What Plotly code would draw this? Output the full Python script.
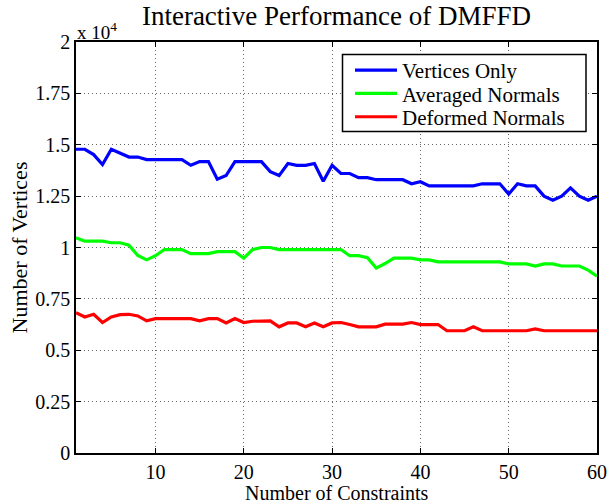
import plotly.graph_objects as go

constraints = list(range(1, 61))

vertices_only = [1.478, 1.478, 1.452, 1.404, 1.478, 1.457, 1.44, 1.44, 1.428, 1.428,
                 1.428, 1.428, 1.428, 1.40, 1.418, 1.418, 1.332, 1.35, 1.418, 1.418,
                 1.418, 1.418, 1.369, 1.35, 1.409, 1.40, 1.40, 1.409, 1.322, 1.40,
                 1.36, 1.36, 1.34, 1.34, 1.33, 1.33, 1.33, 1.33, 1.31, 1.32,
                 1.30, 1.30, 1.30, 1.30, 1.30, 1.30, 1.31, 1.31, 1.31, 1.26,
                 1.31, 1.30, 1.30, 1.25, 1.23, 1.25, 1.29, 1.25, 1.23, 1.25]

averaged_normals = [1.047, 1.031, 1.031, 1.031, 1.023, 1.023, 1.011, 0.961, 0.94, 0.96,
                    0.99, 0.99, 0.99, 0.97, 0.97, 0.97, 0.98, 0.98, 0.98, 0.948,
                    0.99, 1.0, 1.0, 0.99, 0.99, 0.99, 0.99, 0.99, 0.99, 0.99,
                    0.99, 0.96, 0.96, 0.95, 0.90, 0.922, 0.948, 0.948, 0.948, 0.94,
                    0.94, 0.93, 0.93, 0.93, 0.93, 0.93, 0.93, 0.93, 0.93, 0.92,
                    0.92, 0.92, 0.91, 0.92, 0.92, 0.91, 0.91, 0.91, 0.89, 0.86]

deformed_normals = [0.683, 0.662, 0.675, 0.635, 0.662, 0.673, 0.675, 0.667, 0.643, 0.654,
                    0.654, 0.654, 0.654, 0.654, 0.643, 0.654, 0.654, 0.633, 0.654, 0.635,
                    0.641, 0.643, 0.643, 0.614, 0.633, 0.633, 0.614, 0.633, 0.614, 0.633,
                    0.635, 0.625, 0.614, 0.614, 0.614, 0.627, 0.627, 0.627, 0.635, 0.625,
                    0.625, 0.625, 0.595, 0.595, 0.595, 0.614, 0.595, 0.595, 0.595, 0.595,
                    0.595, 0.595, 0.604, 0.595, 0.595, 0.595, 0.595, 0.595, 0.595, 0.595]

series_names = ["Vertices Only", "Averaged Normals", "Deformed Normals"]
series_colors = ["#0000ff", "#00ff00", "#ff0000"]

y_tickvals = [0, 0.25, 0.5, 0.75, 1, 1.25, 1.5, 1.75, 2]
y_ticktext = ["0", "0.25", "0.5", "0.75", "1", "1.25", "1.5", "1.75", "2"]
x_tickvals = [10, 20, 30, 40, 50, 60]

FONT = "Liberation Serif, Times New Roman, serif"

W, H = 607, 503
L, R, T, B = 76, 597, 41.5, 453
PW, PH = R - L, B - T

def px(xp):
    return (xp - L) / PW

def py(yp):
    return (B - yp) / PH

legend_keys = ["legend", "legend2", "legend3"]
legend_centers = [70, 93.3, 116.7]

fig = go.Figure()
for name, ys, col, lk in zip(series_names, [vertices_only, averaged_normals, deformed_normals],
                             series_colors, legend_keys):
    fig.add_trace(go.Scatter(x=constraints, y=ys, mode="lines", name=name, legend=lk,
                             line=dict(color=col, width=3.2)))

axis_common = dict(showline=True, linecolor="black", linewidth=1.5, mirror="ticks",
                   ticks="inside", ticklen=5, tickcolor="black", automargin=False,
                   ticklabeloverflow="allow",
                   showgrid=True, gridcolor="#666666", gridwidth=1, griddash="1px,3px",
                   zeroline=False, tickfont=dict(family=FONT, size=20, color="black"))

legend_common = dict(xanchor="left", yanchor="middle", bgcolor="rgba(0,0,0,0)",
                     borderwidth=0, font=dict(family=FONT, size=21, color="black"),
                     itemwidth=42, x=px(350))

layout_legends = {}
for lk, yc in zip(legend_keys, legend_centers):
    layout_legends[lk] = dict(y=py(yc), **legend_common)

fig.update_layout(
    width=W, height=H,
    margin=dict(l=L, r=W - R, t=T, b=H - B, autoexpand=False),
    paper_bgcolor="white", plot_bgcolor="white",
    font=dict(family=FONT, color="black"),
    title=dict(text="Interactive Performance of DMFFD", x=(L + R) / 2 / W, xanchor="center",
               y=1 - 16 / H, yanchor="middle", font=dict(family=FONT, size=27, color="black")),
    xaxis=dict(range=[1, 60], tickvals=x_tickvals, **axis_common),
    yaxis=dict(range=[0, 2], tickvals=y_tickvals, ticktext=y_ticktext,
               title=dict(text="Number of Vertices", standoff=2, font=dict(family=FONT, size=22)),
               **axis_common),
    showlegend=True,
    **layout_legends,
)

# legend frame
fig.add_shape(type="rect", xref="paper", yref="paper",
              x0=px(342.5), x1=px(586), y0=py(131), y1=py(54),
              line=dict(color="black", width=1.5), fillcolor="white", layer="above")

# x-axis title
fig.add_annotation(text="Number of Constraints", xref="paper", yref="paper",
                   x=0.5, y=py(493.5), xanchor="center", yanchor="middle", showarrow=False,
                   font=dict(family=FONT, size=20, color="black"))

fig.add_annotation(text="x 10<sup>4</sup>", xref="paper", yref="paper", x=0.0, y=1.0,
                   xanchor="left", yanchor="bottom", showarrow=False,
                   font=dict(family=FONT, size=19, color="black"), yshift=-3, xshift=-1)

fig.write_html("out.html")
